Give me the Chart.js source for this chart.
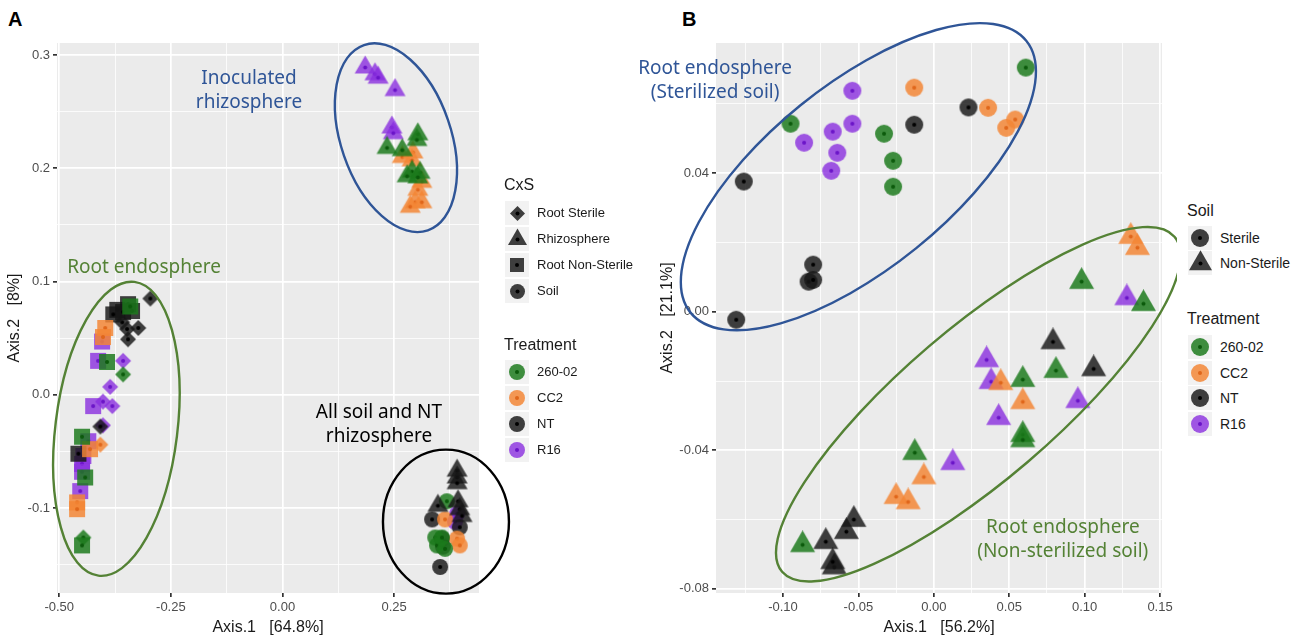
<!DOCTYPE html>
<html>
<head>
<meta charset="utf-8">
<script src="https://cdn.jsdelivr.net/npm/chart.js@4.4.1/dist/chart.umd.min.js"></script>
<style>
  body { margin: 0; background: #fff; width: 1301px; height: 638px; position: relative; overflow: hidden;
         font-family: "Liberation Sans", Arial, sans-serif; }
  canvas { position: absolute; top: 0; }
  #cA { left: 0; }
  #cB { left: 620px; }
  .lbl { position: absolute; font: bold 20px/20px "Liberation Sans", Arial, sans-serif; color: #000; }
  .legT { position: absolute; font-size: 16px; color: #1a1a1a; white-space: nowrap; }
  .legI { position: absolute; font-size: 13px; color: #1a1a1a; white-space: nowrap; }
  .legIB { position: absolute; font-size: 14px; color: #1a1a1a; white-space: nowrap; }
  .key { position: absolute; width: 24px; height: 24px; background: #f2f2f2; }
  .key canvas { position: absolute; }
</style>
</head>
<body>
<div class="lbl" style="left:8px;top:9px">A</div>
<div class="lbl" style="left:682px;top:9px">B</div>
<canvas id="cA" width="515" height="638"></canvas>
<canvas id="cB" width="557" height="638"></canvas>

<script>
// ---- data: panel A (PCoA, CxS x Treatment) ----
const treatments = ['260-02', 'CC2', 'NT', 'R16'];

const aRootSterile = [
  [-0.296, 0.085, 'NT'], [-0.323, 0.059, 'NT'], [-0.348, 0.058, 'NT'], [-0.346, 0.049, 'NT'],
  [-0.359, 0.064, 'NT'], [-0.408, -0.028, 'NT'],
  [-0.357, 0.018, '260-02'], [-0.446, -0.126, '260-02'],
  [-0.357, 0.030, 'R16'], [-0.386, 0.007, 'R16'], [-0.402, -0.006, 'R16'], [-0.381, -0.010, 'R16'],
  [-0.402, -0.027, 'R16'],
  [-0.408, -0.044, 'CC2']
];
const aRhizosphere = [
  [0.185, 0.289, 'R16'], [0.207, 0.283, 'R16'], [0.214, 0.280, 'R16'], [0.252, 0.269, 'R16'],
  [0.245, 0.236, 'R16'], [0.248, 0.231, 'R16'],
  [0.303, 0.230, '260-02'], [0.234, 0.218, '260-02'], [0.268, 0.216, '260-02'], [0.301, 0.225, '260-02'],
  [0.290, 0.197, '260-02'], [0.308, 0.196, '260-02'], [0.279, 0.193, '260-02'], [0.303, 0.192, '260-02'],
  [0.268, 0.210, 'CC2'], [0.292, 0.214, 'CC2'], [0.290, 0.207, 'CC2'], [0.312, 0.188, 'CC2'],
  [0.303, 0.181, 'CC2'], [0.297, 0.170, 'CC2'], [0.286, 0.166, 'CC2'], [0.312, 0.170, 'CC2'],
  [0.391, -0.067, 'NT'], [0.391, -0.073, 'NT'], [0.391, -0.078, 'NT'], [0.393, -0.094, 'NT'],
  [0.397, -0.101, 'NT'], [0.402, -0.107, 'NT'], [0.348, -0.098, 'NT']
];
const aRootNonSterile = [
  [-0.341, 0.078, '260-02'], [-0.393, 0.029, '260-02'], [-0.449, -0.037, '260-02'],
  [-0.442, -0.073, '260-02'], [-0.449, -0.133, '260-02'],
  [-0.370, 0.075, 'NT'], [-0.346, 0.080, 'NT'], [-0.357, 0.073, 'NT'], [-0.337, 0.074, 'NT'],
  [-0.379, 0.071, 'NT'], [-0.457, -0.052, 'NT'],
  [-0.397, 0.059, 'CC2'], [-0.402, 0.051, 'CC2'], [-0.431, -0.048, 'CC2'], [-0.460, -0.095, 'CC2'],
  [-0.460, -0.101, 'CC2'],
  [-0.404, 0.047, 'R16'], [-0.413, 0.030, 'R16'], [-0.424, -0.010, 'R16'], [-0.435, -0.041, 'R16'],
  [-0.446, -0.054, 'R16'], [-0.449, -0.061, 'R16'], [-0.449, -0.068, 'R16'], [-0.453, -0.085, 'R16']
];
const aSoil = [
  [0.368, -0.094, '260-02'], [0.342, -0.126, '260-02'], [0.346, -0.133, '260-02'],
  [0.357, -0.126, '260-02'], [0.364, -0.136, '260-02'],
  [0.335, -0.110, 'NT'], [0.353, -0.152, 'NT'], [0.359, -0.134, 'NT'], [0.397, -0.117, 'NT'],
  [0.357, -0.127, 'NT'],
  [0.391, -0.105, 'R16'], [0.386, -0.112, 'R16'],
  [0.391, -0.127, 'CC2'], [0.397, -0.133, 'CC2'], [0.364, -0.110, 'CC2']
];

// ---- data: panel B (root endosphere, Soil x Treatment) ----
const bSterile = [
  [-0.126, 0.0376, 'NT'], [-0.080, 0.0136, 'NT'], [-0.083, 0.0087, 'NT'], [-0.080, 0.0092, 'NT'],
  [-0.131, -0.0023, 'NT'], [-0.013, 0.054, 'NT'], [0.023, 0.059, 'NT'],
  [-0.095, 0.0543, '260-02'], [-0.033, 0.0514, '260-02'], [-0.027, 0.0436, '260-02'],
  [-0.027, 0.0361, '260-02'], [0.061, 0.0705, '260-02'],
  [-0.054, 0.0638, 'R16'], [-0.086, 0.0488, 'R16'], [-0.067, 0.052, 'R16'], [-0.054, 0.0543, 'R16'],
  [-0.064, 0.0459, 'R16'], [-0.068, 0.0407, 'R16'],
  [-0.013, 0.0647, 'CC2'], [0.036, 0.0589, 'CC2'], [0.048, 0.0531, 'CC2'], [0.054, 0.0555, 'CC2']
];
const bNonSterile = [
  [0.079, -0.0087, 'NT'], [0.106, -0.0165, 'NT'], [-0.053, -0.060, 'NT'], [-0.058, -0.0635, 'NT'],
  [-0.0716, -0.0664, 'NT'], [-0.066, -0.0737, 'NT'], [-0.067, -0.0722, 'NT'],
  [0.035, -0.0139, 'R16'], [0.038, -0.0202, 'R16'], [0.043, -0.0306, 'R16'], [0.0126, -0.0436, 'R16'],
  [0.0955, -0.0257, 'R16'], [0.128, 0.0040, 'R16'],
  [0.0444, -0.0205, 'CC2'], [0.059, -0.026, 'CC2'], [-0.0066, -0.0477, 'CC2'], [-0.025, -0.0534, 'CC2'],
  [-0.017, -0.0549, 'CC2'], [0.1306, 0.0217, 'CC2'], [0.135, 0.0185, 'CC2'],
  [-0.0126, -0.0407, '260-02'], [-0.087, -0.0673, '260-02'], [0.081, -0.017, '260-02'],
  [0.059, -0.0196, '260-02'], [0.059, -0.0355, '260-02'], [0.059, -0.037, '260-02'],
  [0.098, 0.0087, '260-02'], [0.139, 0.0023, '260-02']
];

// ---- axes ----
const xTicksA = [-0.5, -0.25, 0, 0.25];
const xLabelsA = ['-0.50', '-0.25', '0.00', '0.25'];
const xMinorA = [-0.375, -0.125, 0.125, 0.375];
const yTicksA = [-0.1, 0, 0.1, 0.2, 0.3];
const yLabelsA = ['-0.1', '0.0', '0.1', '0.2', '0.3'];
const yMinorA = [-0.15, -0.05, 0.05, 0.15, 0.25];

const xTicksB = [-0.1, -0.05, 0, 0.05, 0.1, 0.15];
const xLabelsB = ['-0.10', '-0.05', '0.00', '0.05', '0.10', '0.15'];
const xMinorB = [-0.125, -0.075, -0.025, 0.025, 0.075, 0.125];
const yTicksB = [-0.08, -0.04, 0, 0.04];
const yLabelsB = ['-0.08', '-0.04', '0.00', '0.04'];
const yMinorB = [-0.06, -0.02, 0.02, 0.06];

// ---- styling ----
const fills = {
  '260-02': 'rgba(28,122,28,0.84)',
  'CC2': 'rgba(243,133,52,0.84)',
  'NT': 'rgba(22,22,22,0.82)',
  'R16': 'rgba(138,46,222,0.8)'
};
const dots = { '260-02': '#0b5a0b', 'CC2': '#e0661a', 'NT': '#000', 'R16': '#6a14c8' };

function makeMarker(shape, fill, size, dot) {
  const c = document.createElement('canvas');
  c.width = c.height = Math.ceil(size + 4);
  const g = c.getContext('2d');
  const m = c.width / 2;
  g.fillStyle = fill;
  g.beginPath();
  if (shape === 'circle') {
    g.arc(m, m, size / 2, 0, Math.PI * 2);
  } else if (shape === 'square') {
    g.rect(m - size / 2, m - size / 2, size, size);
  } else if (shape === 'diamond') {
    const r = size / 2;
    g.moveTo(m, m - r); g.lineTo(m + r, m); g.lineTo(m, m + r); g.lineTo(m - r, m); g.closePath();
  } else if (shape === 'triangle') {
    const h = size * 0.866;
    g.moveTo(m, m - 2 * h / 3); g.lineTo(m + size / 2, m + h / 3); g.lineTo(m - size / 2, m + h / 3); g.closePath();
  }
  g.fill();
  g.fillStyle = dot;
  g.beginPath();
  g.arc(m, m, 2, 0, Math.PI * 2);
  g.fill();
  return c;
}

function near(list, v) { return list.some(t => Math.abs(t - v) < 1e-9); }

function buildDatasets(groups) {
  const out = [];
  groups.forEach(gr => {
    treatments.forEach(t => {
      const pts = gr.data.filter(p => p[2] === t).map(p => ({ x: p[0], y: p[1] }));
      if (!pts.length) return;
      out.push({
        label: gr.name + ' ' + t,
        data: pts,
        pointStyle: makeMarker(gr.shape, fills[t], gr.size, dots[t]),
        pointRadius: gr.size / 2,
        showLine: false
      });
    });
  });
  return out;
}

function axis(min, max, majors, minors, labels, title, fit, titlePad) {
  return {
    type: 'linear', min: min, max: max,
    afterBuildTicks: s => { s.ticks = majors.concat(minors).sort((a, b) => a - b).map(v => ({ value: v })); },
    afterFit: fit,
    ticks: {
      autoSkip: false, maxRotation: 0, padding: 3, color: '#4d4d4d',
      font: { family: 'Liberation Sans', size: 13 },
      callback: v => { const i = majors.findIndex(m => Math.abs(m - v) < 1e-9); return i >= 0 ? labels[i] : ''; }
    },
    grid: {
      color: '#ffffff',
      lineWidth: c => (c.tick && near(majors, c.tick.value)) ? 1.7 : 0.8,
      tickColor: c => (c.tick && near(majors, c.tick.value)) ? '#333333' : 'rgba(0,0,0,0)',
      tickLength: 4
    },
    border: { display: false },
    title: { display: true, text: title, color: '#1a1a1a', font: { family: 'Liberation Sans', size: 16 }, padding: titlePad }
  };
}

const panelBg = {
  id: 'panelBg',
  beforeDraw(chart) {
    const a = chart.chartArea, ctx = chart.ctx;
    ctx.save();
    ctx.fillStyle = '#ebebeb';
    ctx.fillRect(a.left, a.top, a.right - a.left, a.bottom - a.top);
    ctx.restore();
  }
};

const annot = {
  id: 'annot',
  afterDatasetsDraw(chart, args, opts) {
    const ctx = chart.ctx, xs = chart.scales.x, ys = chart.scales.y;
    ctx.save();
    (opts.ellipses || []).forEach(e => {
      ctx.beginPath();
      ctx.ellipse(xs.getPixelForValue(e.x), ys.getPixelForValue(e.y), e.rx, e.ry, e.rot * Math.PI / 180, 0, Math.PI * 2);
      ctx.strokeStyle = e.color;
      ctx.lineWidth = 2.4;
      ctx.stroke();
    });
    (opts.texts || []).forEach(t => {
      ctx.fillStyle = t.color;
      ctx.font = '19px "Noto Sans", sans-serif';
      ctx.textAlign = 'center';
      ctx.textBaseline = 'middle';
      const cx = xs.getPixelForValue(t.x), cy = ys.getPixelForValue(t.y);
      const n = t.lines.length;
      t.lines.forEach((ln, i) => ctx.fillText(ln, cx, cy + (i - (n - 1) / 2) * 24));
    });
    ctx.restore();
  }
};

const blue = '#2f5597', green = '#548235';

// ---- panel A ----
new Chart(document.getElementById('cA').getContext('2d'), {
  type: 'scatter',
  data: {
    datasets: buildDatasets([
      { name: 'Root Non-Sterile', data: aRootNonSterile, shape: 'square', size: 16 },
      { name: 'Root Sterile', data: aRootSterile, shape: 'diamond', size: 16 },
      { name: 'Rhizosphere', data: aRhizosphere, shape: 'triangle', size: 21 },
      { name: 'Soil', data: aSoil, shape: 'circle', size: 16 }
    ])
  },
  options: {
    responsive: false, animation: false,
    layout: { padding: { top: 43, left: 0, right: 36, bottom: 0 } },
    plugins: {
      legend: { display: false }, tooltip: { enabled: false },
      annot: {
        ellipses: [
          { x: 0.254, y: 0.227, rx: 98, ry: 55, rot: 71, color: blue },
          { x: -0.372, y: -0.030, rx: 148, ry: 61, rot: 97, color: green },
          { x: 0.366, y: -0.112, rx: 63, ry: 72, rot: 0, color: '#000' }
        ],
        texts: [
          { x: -0.075, y: 0.269, lines: ['Inoculated', 'rhizosphere'], color: blue },
          { x: -0.310, y: 0.112, lines: ['Root endosphere'], color: green },
          { x: 0.216, y: -0.026, lines: ['All soil and NT', 'rhizosphere'], color: '#000' }
        ]
      }
    },
    scales: {
      x: axis(-0.505, 0.44, xTicksA, xMinorA, xLabelsA, 'Axis.1   [64.8%]', s => { s.height = 45; }, { top: 4, bottom: 1 }),
      y: axis(-0.175, 0.3106, yTicksA, yMinorA, yLabelsA, 'Axis.2   [8%]', s => { s.width = 57; }, { top: 5, bottom: 4 })
    }
  },
  plugins: [panelBg, annot]
});

// ---- panel B ----
new Chart(document.getElementById('cB').getContext('2d'), {
  type: 'scatter',
  data: {
    datasets: buildDatasets([
      { name: 'Sterile', data: bSterile, shape: 'circle', size: 18 },
      { name: 'Non-Sterile', data: bNonSterile, shape: 'triangle', size: 25 }
    ])
  },
  options: {
    responsive: false, animation: false,
    layout: { padding: { top: 43, left: 34, right: 15, bottom: 0 } },
    plugins: {
      legend: { display: false }, tooltip: { enabled: false },
      annot: {
        ellipses: [
          { x: -0.050, y: 0.039, rx: 216, ry: 92, rot: -39, color: blue },
          { x: 0.0295, y: -0.0267, rx: 258, ry: 76, rot: -40.5, color: green }
        ],
        texts: [
          { x: -0.145, y: 0.0668, lines: ['Root endosphere', '(Sterilized soil)'], color: blue },
          { x: 0.0855, y: -0.0658, lines: ['Root endosphere', '(Non-sterilized soil)'], color: green }
        ]
      }
    },
    scales: {
      x: axis(-0.1444, 0.1513, xTicksB, xMinorB, xLabelsB, 'Axis.1   [56.2%]', s => { s.height = 45; }, { top: 4, bottom: 1 }),
      y: axis(-0.0812, 0.0776, yTicksB, yMinorB, yLabelsB, 'Axis.2   [21.1%]', s => { s.width = 62; }, { top: 4, bottom: 4 })
    }
  },
  plugins: [panelBg, annot]
});

// ---- legends (HTML) ----
function addText(cls, txt, left, cy, h) {
  const d = document.createElement('div');
  d.className = cls;
  d.textContent = txt;
  d.style.left = left + 'px';
  d.style.top = (cy - h / 2) + 'px';
  d.style.lineHeight = h + 'px';
  document.body.appendChild(d);
}
function addKey(left, cy, marker) {
  const d = document.createElement('div');
  d.className = 'key';
  d.style.left = left + 'px';
  d.style.top = (cy - 12) + 'px';
  marker.style.left = ((24 - marker.width) / 2) + 'px';
  marker.style.top = ((24 - marker.height) / 2) + 'px';
  d.appendChild(marker);
  document.body.appendChild(d);
}
const keyGrey = 'rgba(30,30,30,0.85)';

// panel A legend
const cxsNames = ['Root Sterile', 'Rhizosphere', 'Root Non-Sterile', 'Soil'];
const cxsShapes = [['diamond', 15], ['triangle', 19], ['square', 14], ['circle', 15]];
addText('legT', 'CxS', 504, 185, 20);
cxsNames.forEach((n, i) => {
  const cy = 213 + i * 26;
  addKey(505, cy, makeMarker(cxsShapes[i][0], keyGrey, cxsShapes[i][1], '#000'));
  addText('legI', n, 537, cy, 16);
});
addText('legT', 'Treatment', 504, 345, 20);
treatments.forEach((t, i) => {
  const cy = 372 + i * 26;
  addKey(505, cy, makeMarker('circle', fills[t], 16, dots[t]));
  addText('legI', t, 537, cy, 16);
});

// panel B legend
const soilNames = ['Sterile', 'Non-Sterile'];
const soilShapes = [['circle', 18], ['triangle', 23]];
addText('legT', 'Soil', 1187, 211, 20);
soilNames.forEach((n, i) => {
  const cy = 238 + i * 25;
  addKey(1188, cy, makeMarker(soilShapes[i][0], keyGrey, soilShapes[i][1], '#000'));
  addText('legIB', n, 1220, cy, 16);
});
addText('legT', 'Treatment', 1187, 319, 20);
treatments.forEach((t, i) => {
  const cy = 347 + i * 25.7;
  addKey(1188, cy, makeMarker('circle', fills[t], 18, dots[t]));
  addText('legIB', t, 1220, cy, 16);
});
</script>
</body>
</html>
